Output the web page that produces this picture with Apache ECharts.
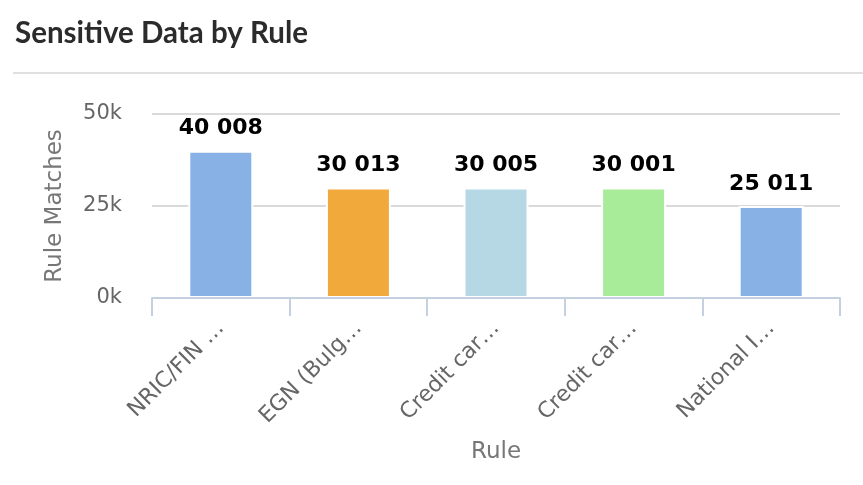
<!DOCTYPE html>
<html>
<head>
<meta charset="utf-8">
<style>
  html, body { margin: 0; padding: 0; background: #fff; }
  #chart { width: 863px; height: 485px; }
</style>
<script src="https://cdn.jsdelivr.net/npm/echarts@6/dist/echarts.min.js"></script>
</head>
<body>
<div id="chart"></div>
<script>
// Rule names and their match counts
const rules = [
  'NRIC/FIN Number (Singapore)',
  'EGN (Bulgaria)',
  'Credit card number (Visa)',
  'Credit card number (Mastercard)',
  'National Insurance Number (UK)'
];
const matches = [40008, 30013, 30005, 30001, 25011];
const barColors = ['#88b2e6', '#f2a93b', '#b5d8e4', '#a8eb98', '#88b2e6'];
const yTicks = [0, 25000, 50000];

const BASE_FONT = 'DejaVu Sans';
const LABEL_SIZE = 22;
const LABEL_MAX = 115;

// Cut a category name so that it fits the label width, ending with an ellipsis
const measureCtx = document.createElement('canvas').getContext('2d');
measureCtx.font = LABEL_SIZE + 'px "' + BASE_FONT + '"';
function shorten(name) {
  if (measureCtx.measureText(name).width <= LABEL_MAX) return name;
  let out = '';
  for (const ch of name) {
    if (measureCtx.measureText(out + ch).width > LABEL_MAX) break;
    out += ch;
  }
  return out + '…';
}

// Thousands separated by a space: 40008 -> "40 008"
function groupDigits(v) {
  return String(v).replace(/\B(?=(\d{3})+(?!\d))/g, ' ');
}

const chart = echarts.init(document.getElementById('chart'), null, { renderer: 'canvas' });

chart.setOption({
  animation: false,
  backgroundColor: '#ffffff',
  textStyle: { fontFamily: BASE_FONT },
  title: {
    text: 'Sensitive Data by Rule',
    left: 10,
    top: 13,
    textStyle: { fontFamily: 'Lato', fontWeight: 'bold', fontSize: 29.5, color: '#2b2b2b' }
  },
  graphic: [{
    type: 'line',
    shape: { x1: 13, y1: 73, x2: 863, y2: 73 },
    style: { stroke: '#e0e0e0', lineWidth: 2 }
  }],
  grid: { left: 152, right: 23, top: 114, bottom: 187, containLabel: false },
  xAxis: {
    type: 'category',
    data: rules,
    z: 3,
    name: 'Rule',
    nameLocation: 'middle',
    nameGap: 143,
    nameTextStyle: { fontFamily: BASE_FONT, fontSize: 23, color: '#777777' },
    axisLine: { show: true, lineStyle: { color: '#c5d1e1', width: 2 } },
    axisTick: { show: true, length: 18, lineStyle: { color: '#c5d1e1', width: 2 } },
    axisLabel: {
      rotate: 45,
      margin: 27,
      fontFamily: BASE_FONT,
      fontSize: LABEL_SIZE,
      color: '#666666',
      interval: 0,
      formatter: shorten
    }
  },
  yAxis: {
    type: 'value',
    min: yTicks[0],
    max: yTicks[yTicks.length - 1],
    interval: yTicks[1] - yTicks[0],
    name: 'Rule Matches',
    nameLocation: 'middle',
    nameGap: 85,
    nameTextStyle: { fontFamily: BASE_FONT, fontSize: 23, color: '#777777' },
    axisLine: { show: false },
    axisTick: { show: false },
    axisLabel: {
      margin: 30,
      fontFamily: BASE_FONT,
      fontSize: 21,
      color: '#666666',
      formatter: v => (v / 1000) + 'k'
    },
    splitLine: { lineStyle: { color: '#dadada', width: 2 } }
  },
  series: [{
    type: 'bar',
    data: matches.map((v, i) => ({ value: v, itemStyle: { color: barColors[i] } })),
    barWidth: 65,
    itemStyle: { borderColor: '#ffffff', borderWidth: 2 },
    label: {
      show: true,
      position: 'top',
      distance: 11,
      fontFamily: BASE_FONT,
      fontSize: 22,
      fontWeight: 'bold',
      color: '#000000',
      formatter: p => groupDigits(p.value)
    }
  }]
});
</script>
</body>
</html>
